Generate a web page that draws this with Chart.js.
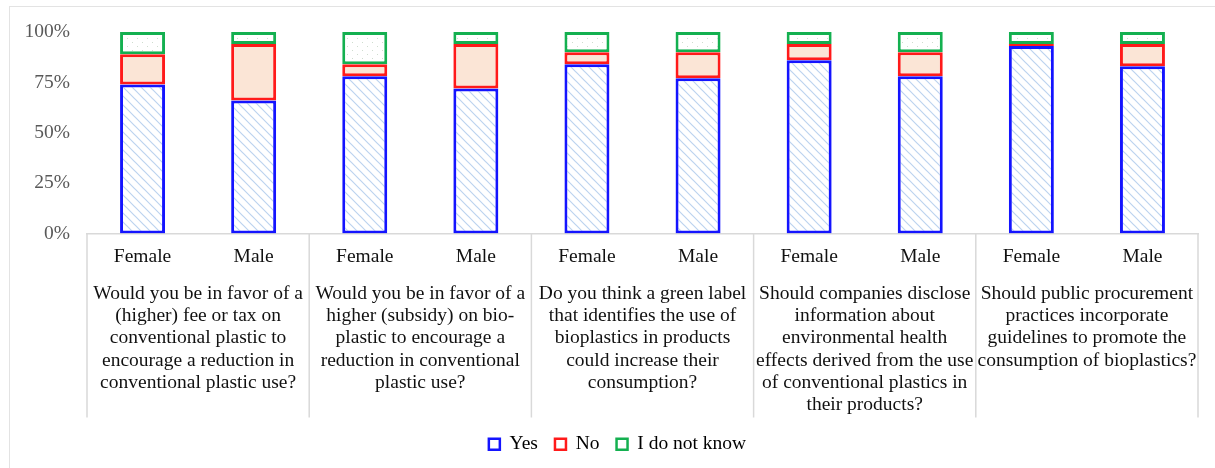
<!DOCTYPE html>
<html>
<head>
<meta charset="utf-8">
<script src="https://cdn.jsdelivr.net/npm/chart.js@4/dist/chart.umd.min.js"></script>
<style>
  html, body { margin: 0; padding: 0; background: #fff; overflow: hidden; }
  #frame { position: absolute; left: 9px; top: 6px; width: 1300px; height: 600px;
           border: 1.5px solid #e3e3e3; pointer-events: none; }
  canvas { position: absolute; left: 0; top: 0; }
</style>
</head>
<body>
<div id="frame"></div>
<canvas id="grafico" width="1215" height="468"></canvas>
<script>
const genders = ['Female', 'Male', 'Female', 'Male', 'Female', 'Male', 'Female', 'Male', 'Female', 'Male'];

const questions = [
    ['Would you be in favor of a', '(higher) fee or tax on', 'conventional plastic to', 'encourage a reduction in', 'conventional plastic use?'],
    ['Would you be in favor of a', 'higher (subsidy) on bio-', 'plastic to encourage a', 'reduction in conventional', 'plastic use?'],
    ['Do you think a green label', 'that identifies the use of', 'bioplastics in products', 'could increase their', 'consumption?'],
    ['Should companies disclose', 'information about', 'environmental health', 'effects derived from the use', 'of conventional plastics in', 'their products?'],
    ['Should public procurement', 'practices incorporate', 'guidelines to promote the', 'consumption of bioplastics?']
];

const yesValues = [74, 66, 78, 72, 84, 77, 86, 78, 93, 83];
const noValues = [15, 28, 6, 22, 6, 13, 8, 12, 1, 11];
const dontKnowValues = [11, 6, 16, 6, 10, 10, 6, 10, 6, 6];

const yTicks = [0, 25, 50, 75, 100];

const serif = 'Liberation Serif';

// hachura diagonal azul clara
function hatch() {
    const c = document.createElement('canvas');
    c.width = 9; c.height = 9;
    const g = c.getContext('2d');
    g.fillStyle = '#ffffff';
    g.fillRect(0, 0, 9, 9);
    g.strokeStyle = '#bcd3ef';
    g.lineWidth = 1.2;
    g.beginPath();
    g.moveTo(-1, -1); g.lineTo(10, 10);
    g.moveTo(-1, 8); g.lineTo(1, 10);
    g.moveTo(8, -1); g.lineTo(10, 1);
    g.stroke();
    return g.createPattern(c, 'repeat');
}

// pontinhos
function dots() {
    const c = document.createElement('canvas');
    c.width = 10; c.height = 8;
    const g = c.getContext('2d');
    g.fillStyle = '#ffffff';
    g.fillRect(0, 0, 10, 8);
    g.fillStyle = '#cfdccf';
    g.fillRect(2, 2, 1, 1);
    g.fillRect(7, 6, 1, 1);
    return g.createPattern(c, 'repeat');
}

// linhas divisórias entre as perguntas
const divisorias = {
    id: 'divisorias',
    afterLayout(chart) {
        // legenda um pouco deslocada para a direita
        chart.legend.left += 37;
    },
    afterDraw(chart) {
        const s = chart.scales.x2;
        const ctx = chart.ctx;
        ctx.save();
        ctx.strokeStyle = '#d9d9d9';
        ctx.lineWidth = 1.5;
        for (let i = 0; i <= questions.length; i++) {
            const x = s.getPixelForValue(i - 0.5);
            ctx.beginPath();
            ctx.moveTo(x, chart.chartArea.bottom);
            ctx.lineTo(x, s.bottom);
            ctx.stroke();
        }
        ctx.restore();
    }
};

const ctx = document.getElementById('grafico');

new Chart(ctx, {
    type: 'bar',
    data: {
        labels: genders,
        datasets: [
            {
                label: 'Yes',
                data: yesValues,
                backgroundColor: hatch(),
                borderColor: '#1414ff',
                legendColor: '#1414ff'
            },
            {
                label: 'No',
                data: noValues,
                backgroundColor: '#fbe5d6',
                borderColor: '#ff1a1a',
                legendColor: '#ff1a1a'
            },
            {
                label: 'I do not know',
                data: dontKnowValues,
                backgroundColor: dots(),
                borderColor: '#14b050',
                legendColor: '#14b050'
            }
        ]
    },
    options: {
        responsive: false,
        animation: false,
        datasets: {
            bar: {
                borderWidth: 3,
                borderSkipped: false,
                categoryPercentage: 1,
                barPercentage: 0.405
            }
        },
        layout: {
            padding: { top: 32, right: 17, left: 0, bottom: 4 }
        },
        scales: {
            x: {
                stacked: true,
                grid: { display: false, drawTicks: false },
                border: { display: true, color: '#d9d9d9', width: 1.5 },
                ticks: {
                    color: '#111',
                    font: { family: serif, size: 19.5, lineHeight: 1.15 },
                    padding: 12,
                    maxRotation: 0,
                    autoSkip: false
                },
                afterFit: (s) => { s.height = 40; }
            },
            x2: {
                type: 'category',
                position: 'bottom',
                labels: questions,
                offset: true,
                grid: { display: false, drawTicks: false },
                border: { display: false },
                ticks: {
                    color: '#111',
                    font: { family: serif, size: 19.5, lineHeight: 1.145 },
                    padding: 9,
                    maxRotation: 0,
                    autoSkip: false
                },
                afterFit: (s) => { s.height = 144; }
            },
            y: {
                stacked: true,
                min: 0,
                max: 100,
                afterBuildTicks: (s) => { s.ticks = yTicks.map(v => ({ value: v })); },
                grid: { display: false, drawTicks: false },
                border: { display: false },
                ticks: {
                    color: '#595959',
                    font: { family: serif, size: 19.5 },
                    padding: 17,
                    callback: (v) => v + '%'
                },
                afterFit: (s) => { s.width = 87; }
            }
        },
        plugins: {
            legend: {
                position: 'bottom',
                labels: {
                    color: '#111',
                    font: { family: serif, size: 19.5 },
                    boxWidth: 11,
                    boxHeight: 11,
                    padding: 17,
                    generateLabels(chart) {
                        return chart.data.datasets.map((d, i) => ({
                            text: d.label,
                            fillStyle: '#ffffff',
                            strokeStyle: d.legendColor,
                            lineWidth: 2.5,
                            datasetIndex: i,
                            hidden: false
                        }));
                    }
                }
            },
            tooltip: { enabled: false }
        }
    },
    plugins: [divisorias]
});
</script>
</body>
</html>
